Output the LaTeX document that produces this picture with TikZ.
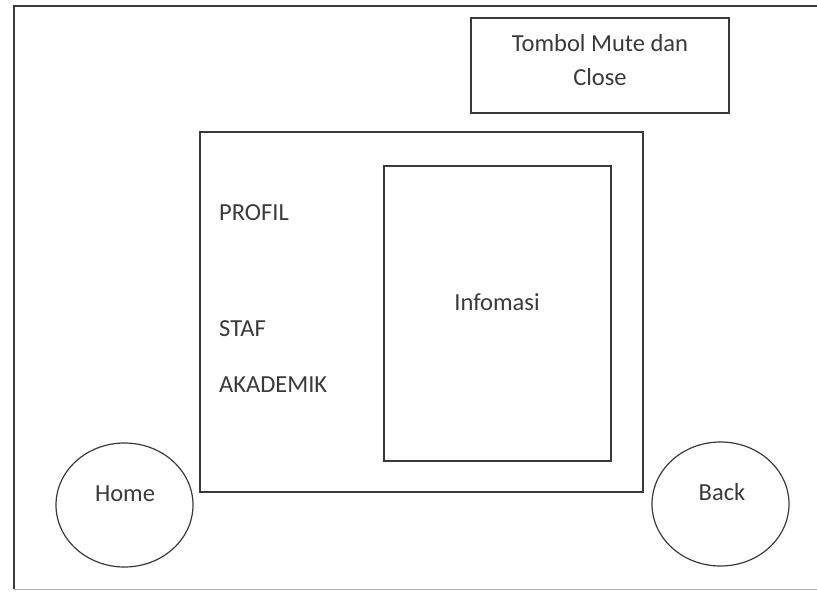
\documentclass[tikz,border=0pt]{standalone}
\usepackage{fontspec}
\setmainfont{Carlito}
\usetikzlibrary{shapes.geometric}
\definecolor{ink}{HTML}{3A3A3A}
\begin{document}
\begin{tikzpicture}[x=1pt,y=-1pt,
  frame/.style={draw=ink,line width=1.2pt},
  box/.style={frame,rectangle,inner sep=0pt},
  btn/.style={frame,ellipse,inner sep=0pt},
  lbl/.style={text=ink,inner sep=0pt,font=\fontsize{24.5}{34}\selectfont}]
\useasboundingbox (0,0) rectangle (817,595);
% screen border (open on the right, faint at the bottom)
\draw[frame] (817,6) -- (14,6) -- (14,589);
\draw[draw=black!30,line width=1pt] (14,589) -- (817,589);
% mute / close button area
\node[box,minimum width=258pt,minimum height=95pt] (mute) at (600,65.5) {};
\node[lbl,align=center] (mutetxt) at (600,60) {Tombol Mute dan\\Close};
% main panel with menu and information area
\node[box,minimum width=443pt,minimum height=360pt] (panel) at (421.5,312) {};
\node[box,minimum width=227pt,minimum height=295pt] (info) at (497.5,313.5) {};
\node[lbl] (infotxt) at (497,302) {Infomasi};
\node[lbl,anchor=west] (profil) at (219,213) {PROFIL};
\node[lbl,anchor=west] (staf) at (219,329) {STAF};
\node[lbl,anchor=west] (akademik) at (219,385) {AKADEMIK};
% navigation buttons
\node[btn,minimum width=137pt,minimum height=124pt] (home) at (124.5,505) {};
\node[lbl] (hometxt) at (125,494) {Home};
\node[btn,minimum width=137pt,minimum height=124pt] (back) at (720.5,504) {};
\node[lbl] (backtxt) at (722,492) {Back};
\end{tikzpicture}
\end{document}
